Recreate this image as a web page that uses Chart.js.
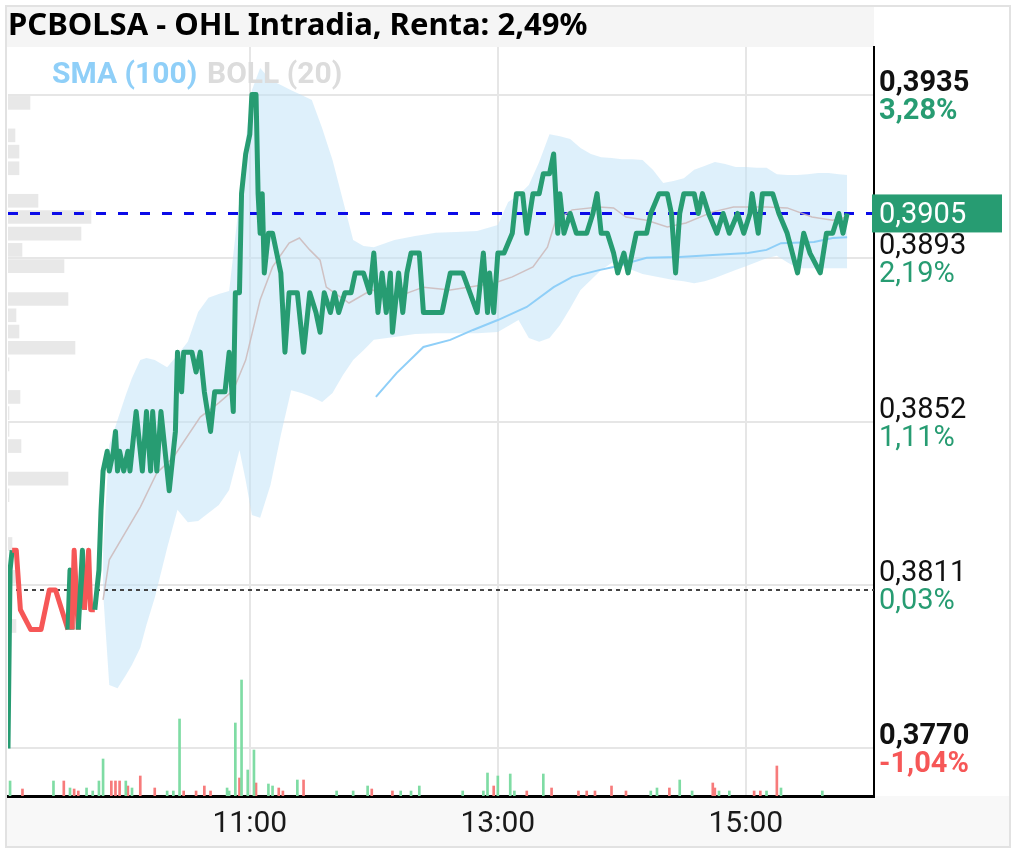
<!DOCTYPE html>
<html>
<head>
<meta charset="utf-8">
<title>PCBOLSA - OHL Intradia</title>
<script src="https://cdn.jsdelivr.net/npm/chart.js@4.4.1/dist/chart.umd.min.js"></script>
<style>
  html, body { margin: 0; padding: 0; background: #fff; }
  canvas { display: block; }
</style>
</head>
<body>
<canvas id="myChart" width="1017" height="851"></canvas>
<script>
// --- data (time = minutes since midnight) ---
const chartTitle = 'PCBOLSA - OHL Intradia, Renta: 2,49%';
const legendLabels = ['SMA (100)', 'BOLL (20)'];

const xTickValues = [660, 780, 900];
const xTickLabels = ['11:00', '13:00', '15:00'];
const yTickValues = [0.3770, 0.381125, 0.38525, 0.389375, 0.3935];
const yTickPrices = ['0,3770', '0,3811', '0,3852', '0,3893', '0,3935'];
const yTickChanges = ['-1,04%', '0,03%', '1,11%', '2,19%', '3,28%'];

const lastPrice = 0.3905;
const lastPriceLabel = '0,3905';
const prevClose = 0.3810;

const priceTimes = [
    543, 544, 545, 547, 549, 554, 559, 563, 566, 572,
    573, 574, 575, 577, 579, 580, 582, 583, 585, 587,
    588, 589, 591, 592, 594, 595, 596, 597, 599, 601,
    602, 603, 605, 608, 610, 612, 613, 615, 617, 621,
    624, 625, 627, 628, 632, 634, 636, 638, 641, 643,
    648, 650, 652, 653, 655, 656, 658, 660, 661, 663,
    664, 665, 666, 667, 669, 671, 675, 677, 679, 683,
    686, 689, 692, 694, 696, 699, 701, 703, 706, 709,
    711, 715, 718, 720, 722, 724, 726, 728, 729, 732,
    734, 736, 738, 742, 744, 753, 757, 763, 770, 773,
    775, 776, 778, 780, 783, 787, 789, 792, 794, 797,
    800, 802, 805, 807, 809, 810, 812, 815, 818, 823,
    826, 828, 830, 833, 836, 838, 841, 843, 847, 852,
    854, 858, 862, 864, 866, 868, 870, 875, 877, 879,
    882, 886, 889, 892, 896, 899, 902, 903, 906, 908,
    913, 916, 920, 925, 928, 931, 936, 939, 942, 945,
    947, 949
];
const priceValues = [
    0.3770, 0.3815, 0.3820, 0.3820, 0.3805, 0.3800, 0.3800, 0.3810, 0.3810, 0.3800,
    0.3815, 0.3800, 0.3820, 0.3800, 0.3820, 0.3805, 0.3820, 0.3805, 0.3805, 0.3815,
    0.3830, 0.3840, 0.3845, 0.3840, 0.3845, 0.3850, 0.3840, 0.3845, 0.3840, 0.3845,
    0.3840, 0.3845, 0.3855, 0.3840, 0.3855, 0.3840, 0.3855, 0.3840, 0.3855, 0.3835,
    0.3850, 0.3870, 0.3860, 0.3870, 0.3870, 0.3865, 0.3870, 0.3860, 0.3850, 0.3860,
    0.3860, 0.3870, 0.3855, 0.3885, 0.3885, 0.3910, 0.3920, 0.3925, 0.3935, 0.3935,
    0.3910, 0.3900, 0.3910, 0.3890, 0.3900, 0.3900, 0.3890, 0.3870, 0.3885, 0.3885,
    0.3870, 0.3885, 0.3880, 0.3875, 0.3885, 0.3880, 0.3885, 0.3880, 0.3885, 0.3885,
    0.3890, 0.3890, 0.3885, 0.3895, 0.3880, 0.3890, 0.3880, 0.3890, 0.3875, 0.3890,
    0.3880, 0.3890, 0.3895, 0.3895, 0.3880, 0.3880, 0.3890, 0.3890, 0.3880, 0.3895,
    0.3880, 0.3890, 0.3880, 0.3895, 0.3895, 0.3900, 0.3910, 0.3910, 0.3900, 0.3910,
    0.3910, 0.3915, 0.3915, 0.3920, 0.3900, 0.3910, 0.3900, 0.3905, 0.3900, 0.3900,
    0.3905, 0.3910, 0.3900, 0.3900, 0.3895, 0.3890, 0.3895, 0.3890, 0.3900, 0.3900,
    0.3905, 0.3910, 0.3910, 0.3905, 0.3890, 0.3905, 0.3910, 0.3910, 0.3905, 0.3910,
    0.3905, 0.3900, 0.3905, 0.3900, 0.3905, 0.3900, 0.3905, 0.3910, 0.3900, 0.3910,
    0.3910, 0.3905, 0.3900, 0.3890, 0.3900, 0.3895, 0.3890, 0.3900, 0.3900, 0.3905,
    0.3900, 0.3905
];
// stretches of the opening where the line is drawn red
const redStretches = [[545, 572], [574, 577], [580, 585]];

const smaTimes = [721, 731, 744, 757, 768, 780, 794, 807, 816, 829,
    836, 852, 868, 884, 901, 910, 917, 933, 942, 949];
const smaValues = [0.38587, 0.38647, 0.38713, 0.38731, 0.38756, 0.38781, 0.38814, 0.38864, 0.38890, 0.38907,
    0.38915, 0.38938, 0.38940, 0.38945, 0.38950, 0.38958, 0.38975, 0.38978, 0.38988, 0.38990];

const bollTimes = [589, 592, 607, 615, 623, 636, 645, 652, 658, 665,
    671, 679, 684, 689, 694, 697, 708, 719, 731, 744,
    757, 778, 787, 797, 804, 808, 816, 829, 836, 842,
    852, 862, 871, 884, 894, 910, 920, 932, 942, 949];
const bollMid = [0.38075, 0.38176, 0.38309, 0.38395, 0.38435, 0.38536, 0.38572, 0.38604, 0.38680, 0.38832,
    0.38915, 0.38975, 0.38988, 0.38958, 0.38932, 0.38864, 0.38824, 0.38857, 0.38839, 0.38864,
    0.38857, 0.38874, 0.38890, 0.38915, 0.38965, 0.39033, 0.39059, 0.39066, 0.39064, 0.39041,
    0.39033, 0.39016, 0.39026, 0.39054, 0.39066, 0.39066, 0.39064, 0.39041, 0.39033, 0.39041];

const bandTimes = [589, 592, 596, 600, 603, 607, 610, 614, 620, 625,
    630, 635, 640, 645, 650, 655, 658, 661, 665, 670,
    675, 680, 685, 690, 695, 700, 705, 710, 715, 720,
    730, 740, 750, 760, 770, 780, 785, 790, 795, 800,
    805, 810, 815, 820, 825, 830, 835, 840, 845, 850,
    855, 860, 865, 870, 875, 880, 885, 890, 895, 900,
    905, 910, 915, 920, 925, 930, 935, 940, 945, 949];
const bandUpper = [0.38200, 0.38466, 0.38529, 0.38592, 0.38635, 0.38680, 0.38685, 0.38680, 0.38662, 0.38693,
    0.38726, 0.38801, 0.38837, 0.38847, 0.38854, 0.39084, 0.39235, 0.39361, 0.39417, 0.39387,
    0.39374, 0.39361, 0.39349, 0.39336, 0.39265, 0.39185, 0.39084, 0.38983, 0.38968, 0.38965,
    0.38983, 0.38993, 0.39001, 0.39003, 0.39006, 0.39021, 0.39079, 0.39096, 0.39122, 0.39180,
    0.39250, 0.39245, 0.39238, 0.39215, 0.39200, 0.39192, 0.39190, 0.39187, 0.39187, 0.39185,
    0.39160, 0.39127, 0.39132, 0.39139, 0.39160, 0.39170, 0.39180, 0.39175, 0.39167, 0.39167,
    0.39165, 0.39165, 0.39149, 0.39147, 0.39147, 0.39149, 0.39152, 0.39152, 0.39149, 0.39147];
const bandLower = [0.38095, 0.37860, 0.37852, 0.37885, 0.37911, 0.37954, 0.38012, 0.38080, 0.38206, 0.38302,
    0.38271, 0.38274, 0.38294, 0.38314, 0.38352, 0.38453, 0.38377, 0.38289, 0.38282, 0.38365,
    0.38491, 0.38604, 0.38597, 0.38587, 0.38574, 0.38597, 0.38642, 0.38680, 0.38705, 0.38731,
    0.38738, 0.38746, 0.38748, 0.38748, 0.38748, 0.38751, 0.38766, 0.38781, 0.38736, 0.38726,
    0.38736, 0.38768, 0.38811, 0.38857, 0.38882, 0.38907, 0.38925, 0.38920, 0.38907, 0.38897,
    0.38892, 0.38887, 0.38882, 0.38879, 0.38874, 0.38879, 0.38887, 0.38897, 0.38907, 0.38917,
    0.38927, 0.38937, 0.38943, 0.38927, 0.38912, 0.38912, 0.38912, 0.38912, 0.38912, 0.38912];

const volUpTimes = [544, 565, 573, 581, 584, 587, 589, 600, 603, 620,
    623, 626, 649, 650, 653, 656, 659, 662, 669, 671,
    683, 702, 710, 717, 733, 738, 742, 763, 773, 775,
    780, 786, 788, 802, 854, 857, 868, 874, 887, 892,
    910, 917, 937];
const volUpValues = [15000, 15000, 8000, 8000, 5000, 15000, 37000, 15000, 8000, 5000,
    5000, 77000, 8000, 5000, 73000, 116000, 26000, 46000, 12000, 10000,
    16000, 5000, 5000, 10000, 5000, 5000, 10000, 5000, 5000, 23000,
    20000, 22000, 5000, 22000, 5000, 8000, 16000, 5000, 5000, 5000,
    5000, 8000, 5000];
const volDownTimes = [550, 570, 575, 577, 593, 595, 597, 601, 607, 614,
    628, 634, 638, 641, 655, 663, 674, 676, 686, 719,
    729, 778, 794, 806, 819, 823, 827, 835, 842, 863,
    884, 885, 904, 907, 915];
const volDownValues = [7000, 15000, 7000, 5000, 15000, 15000, 15000, 10000, 20000, 8000,
    5000, 5000, 10000, 5000, 18000, 13000, 8000, 5000, 16000, 7000,
    5000, 10000, 5000, 8000, 5000, 5000, 5000, 10000, 5000, 8000,
    13000, 8000, 5000, 5000, 30000];

// volume traded at each price level (left profile)
const profilePrices = [0.39329, 0.39247, 0.39206, 0.39164, 0.39082, 0.39041, 0.38999, 0.38958, 0.38917, 0.38834,
    0.38793, 0.38752, 0.38711, 0.38669, 0.38587, 0.38546, 0.38504, 0.38463, 0.38381, 0.38339,
    0.38216, 0.38133, 0.38009, 0.37721];
const profileVolumes = [220000, 70000, 110000, 110000, 300000, 830000, 730000, 140000, 560000, 600000,
    80000, 110000, 670000, 10000, 120000, 10000, 10000, 130000, 600000, 10000,
    40000, 80000, 80000, 10000];

// --- look ---
const GREEN = '#279c72';
const RED = '#f65757';
const GRID = '#e6e6e6';
const xMin = 543, xMax = 962;

function points(xs, ys) {
    return xs.map((x, i) => ({ x: x, y: ys[i] }));
}

function isRed(t0, t1) {
    return redStretches.some(r => t0 >= r[0] && t1 <= r[1]);
}

const decorations = {
    id: 'decorations',
    beforeDraw(chart) {
        const ctx = chart.ctx;
        const a = chart.chartArea;
        ctx.save();
        ctx.fillStyle = '#ffffff';
        ctx.fillRect(0, 0, chart.width, chart.height);
        // title band
        ctx.fillStyle = '#f5f5f5';
        ctx.fillRect(7, 7, a.right - 7, a.top - 7);
        // time axis band
        ctx.fillStyle = '#f8f8f8';
        ctx.fillRect(7, a.bottom, 1003, chart.height - a.bottom - 5);
        // outer frame
        ctx.strokeStyle = '#e2e2e2';
        ctx.lineWidth = 2;
        ctx.strokeRect(6, 6, 1004, 841);
        ctx.restore();
    },
    afterDatasetsDraw(chart) {
        const ctx = chart.ctx;
        ctx.save();
        ctx.font = 'bold 30px Roboto';
        ctx.textBaseline = 'alphabetic';
        ctx.textAlign = 'left';
        ctx.fillStyle = '#8fcff8';
        ctx.fillText(legendLabels[0], 52, 83);
        ctx.fillStyle = '#dcdcdc';
        ctx.fillText(legendLabels[1], 207, 83);
        ctx.restore();
    },
    afterDraw(chart) {
        const ctx = chart.ctx;
        const y = chart.scales.y;
        const left = chart.chartArea.right + 5;
        const last = yTickValues.length - 1;
        ctx.save();
        ctx.textAlign = 'left';
        ctx.textBaseline = 'alphabetic';
        yTickValues.forEach((v, i) => {
            const py = y.getPixelForValue(v);
            const bold = (i === 0 || i === last) ? 'bold ' : '';
            ctx.font = bold + '29px Roboto';
            ctx.fillStyle = '#111111';
            ctx.fillText(yTickPrices[i], left, py - 4);
            ctx.fillStyle = yTickChanges[i].charAt(0) === '-' ? RED : GREEN;
            ctx.fillText(yTickChanges[i], left, py + 24);
        });
        // last price tag
        const ly = y.getPixelForValue(lastPrice);
        ctx.fillStyle = GREEN;
        ctx.fillRect(chart.chartArea.right - 2, ly - 19, 130, 38);
        ctx.fillStyle = '#ffffff';
        ctx.font = '29px Roboto';
        ctx.fillText(lastPriceLabel, left, ly + 10);
        ctx.restore();
    }
};

const ctx = document.getElementById('myChart');

new Chart(ctx, {
    type: 'line',
    data: {
        datasets: [
            {
                label: 'Precio',
                data: points(priceTimes, priceValues),
                borderColor: GREEN,
                borderWidth: 5,
                borderJoinStyle: 'round',
                pointRadius: 0,
                tension: 0,
                order: 0,
                segment: {
                    borderColor: c => isRed(c.p0.parsed.x, c.p1.parsed.x) ? RED : GREEN
                }
            },
            {
                label: 'SMA (100)',
                data: points(smaTimes, smaValues),
                borderColor: '#8fcff8',
                borderWidth: 2,
                pointRadius: 0,
                order: 1
            },
            {
                label: 'BOLL (20)',
                data: points(bollTimes, bollMid),
                borderColor: 'rgba(205, 185, 185, 0.85)',
                borderWidth: 1.5,
                pointRadius: 0,
                order: 2
            },
            {
                label: 'Ultimo',
                data: points([xMin, xMax], [lastPrice, lastPrice]),
                borderColor: '#0b0be8',
                borderWidth: 3,
                borderDash: [10, 12],
                pointRadius: 0,
                order: 3
            },
            {
                label: 'Cierre anterior',
                data: points([xMin, xMax], [prevClose, prevClose]),
                borderColor: '#444444',
                borderWidth: 2,
                borderDash: [4, 4],
                pointRadius: 0,
                order: 3
            },
            {
                label: 'BOLL sup',
                data: points(bandTimes, bandUpper),
                borderWidth: 0,
                pointRadius: 0,
                backgroundColor: 'rgba(190, 225, 248, 0.5)',
                fill: '+1',
                order: 6
            },
            {
                label: 'BOLL inf',
                data: points(bandTimes, bandLower),
                borderWidth: 0,
                pointRadius: 0,
                fill: false,
                order: 6
            },
            {
                type: 'bar',
                label: 'Volumen compra',
                data: points(volUpTimes, volUpValues),
                yAxisID: 'yv',
                backgroundColor: '#7fdca4',
                barThickness: 2,
                grouped: false,
                order: 4
            },
            {
                type: 'bar',
                label: 'Volumen venta',
                data: points(volDownTimes, volDownValues),
                yAxisID: 'yv',
                backgroundColor: '#f77b7b',
                barThickness: 2,
                grouped: false,
                order: 4
            },
            {
                type: 'bar',
                label: 'Perfil',
                indexAxis: 'y',
                data: profileVolumes.map((v, i) => ({ x: v, y: profilePrices[i] })),
                xAxisID: 'xp',
                yAxisID: 'y',
                backgroundColor: '#e8e8e8',
                barThickness: 13,
                grouped: false,
                order: 7
            }
        ]
    },
    plugins: [decorations],
    options: {
        responsive: false,
        devicePixelRatio: 1,
        animation: false,
        layout: {
            padding: { left: 8, right: 0, top: 0, bottom: 0 }
        },
        plugins: {
            legend: { display: false },
            tooltip: { enabled: false },
            title: {
                display: true,
                text: chartTitle,
                align: 'start',
                color: '#000000',
                font: { family: 'Noto Sans', size: 31, weight: 'bold', lineHeight: 1.2 },
                padding: { top: 8, bottom: 1.8 }
            }
        },
        scales: {
            x: {
                type: 'linear',
                position: 'bottom',
                offset: false,
                min: xMin,
                max: xMax,
                afterBuildTicks: s => { s.ticks = xTickValues.map(v => ({ value: v })); },
                afterFit: s => { s.height = 55; },
                ticks: {
                    autoSkip: false,
                    maxRotation: 0,
                    padding: 10,
                    color: '#1a1a1a',
                    font: { family: 'Roboto', size: 30 },
                    callback: (v, i) => xTickLabels[i]
                },
                grid: { color: GRID, lineWidth: 2, drawTicks: false, offset: false },
                border: { display: true, color: '#000000', width: 3 }
            },
            y: {
                type: 'linear',
                position: 'right',
                offset: false,
                min: 0.37580,
                max: 0.39470,
                afterBuildTicks: s => { s.ticks = yTickValues.map(v => ({ value: v })); },
                afterFit: s => { s.width = 143; },
                ticks: { display: false },
                grid: { color: GRID, lineWidth: 2, drawTicks: false, offset: false },
                border: { display: true, color: '#000000', width: 2 }
            },
            yv: {
                type: 'linear',
                axis: 'y',
                position: 'left',
                display: false,
                offset: false,
                min: 0,
                max: 749000
            },
            xp: {
                type: 'linear',
                axis: 'x',
                position: 'bottom',
                display: false,
                offset: false,
                min: 0,
                max: 8660000
            }
        }
    }
});
</script>
</body>
</html>
